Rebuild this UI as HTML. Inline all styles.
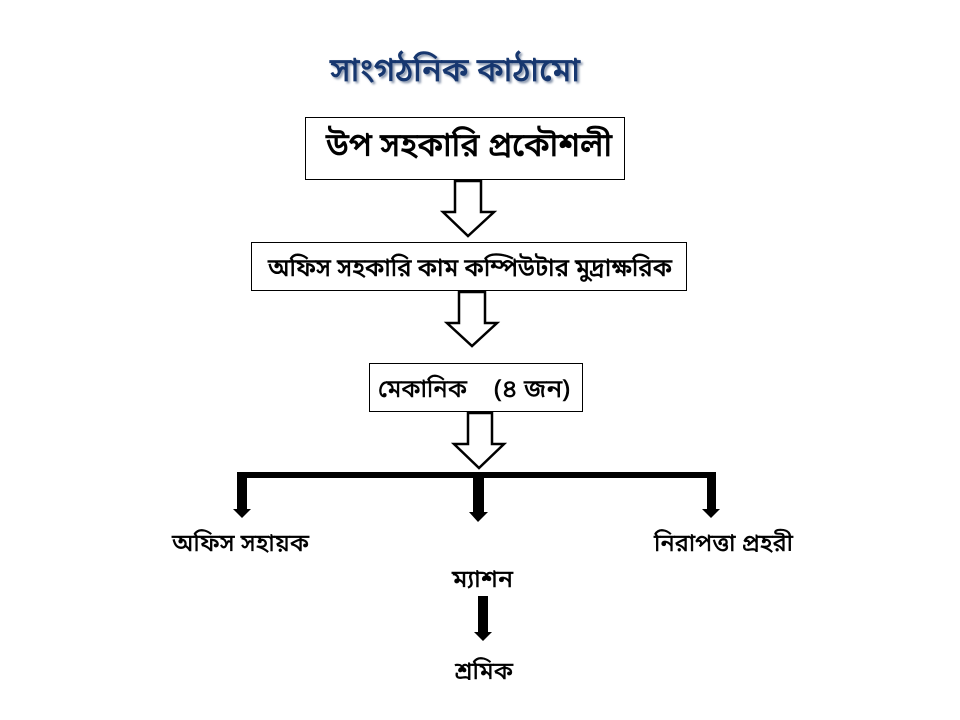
<!DOCTYPE html>
<html lang="bn">
<head>
<meta charset="utf-8">
<title>সাংগঠনিক কাঠামো</title>
<style>
html,body{margin:0;padding:0;background:#fff;width:960px;height:720px;overflow:hidden}
svg{display:block}
text{font-family:"Noto Sans Bengali","Noto Serif Bengali","Lohit Bengali","Vrinda","Liberation Sans","DejaVu Sans",sans-serif;fill:#000;stroke:#000;stroke-width:.45px}
</style>
</head>
<body>
<svg width="960" height="720" viewBox="0 0 960 720" xmlns="http://www.w3.org/2000/svg">
<defs><filter id="b" x="-5%" y="-30%" width="110%" height="160%"><feGaussianBlur stdDeviation="1"/></filter></defs>
<rect width="960" height="720" fill="#fff"/>
<!-- title -->
<text x="332" y="83" font-size="33" textLength="250" lengthAdjust="spacingAndGlyphs" filter="url(#b)" style="fill:#8a97ad;stroke:#8a97ad;stroke-width:.6px">সাংগঠনিক কাঠামো</text>
<text x="330" y="81" font-size="33" textLength="250" lengthAdjust="spacingAndGlyphs" style="fill:#17376f;stroke:#17376f;stroke-width:.7px">সাংগঠনিক কাঠামো</text>
<!-- boxes -->
<g fill="#fff" stroke="#000" stroke-width="1">
<rect x="305.5" y="117.5" width="319" height="62"/>
<rect x="251.5" y="242.5" width="435" height="48"/>
<rect x="369.5" y="363.5" width="213" height="48"/>
</g>
<text x="326" y="156" font-size="33" textLength="286" lengthAdjust="spacingAndGlyphs" style="stroke-width:.8px">উপ সহকারি প্রকৌশলী</text>
<text x="268" y="276" font-size="25" textLength="404" lengthAdjust="spacingAndGlyphs" style="stroke-width:.6px">অফিস সহকারি কাম কম্পিউটার মুদ্রাক্ষরিক</text>
<text x="378" y="397" font-size="25" textLength="89" lengthAdjust="spacingAndGlyphs">মেকানিক</text>
<text x="494" y="397" font-size="25" textLength="76" lengthAdjust="spacingAndGlyphs">(৪ জন)</text>
<!-- hollow arrows -->
<g fill="#fff" stroke="#000" stroke-width="2.5" stroke-linejoin="miter">
<polygon points="455,181 481,181 481,212 494,212 468,236 443,212 455,212"/>
<polygon points="459,292 485,292 485,323 497,323 472,346 447,323 459,323"/>
<polygon points="468,413 492,413 492,444 504,444 479,468 454,444 468,444"/>
</g>
<!-- bar and solid arrows -->
<g fill="#000">
<rect x="237" y="472" width="479" height="6"/>
<polygon points="237,478 247,478 247,509 251,509 242,518 233,509 237,509"/>
<polygon points="473,478 484,478 484,512 488,512 478,522 469,512 473,512"/>
<polygon points="707,478 716,478 716,509 720,509 711,518 702,509 707,509"/>
<polygon points="478,596 488,596 488,632 492,632 483,641 474,632 478,632"/>
</g>
<!-- labels -->
<text x="172" y="551" font-size="24" textLength="137" lengthAdjust="spacingAndGlyphs">অফিস সহায়ক</text>
<text x="654" y="551" font-size="24" textLength="139" lengthAdjust="spacingAndGlyphs">নিরাপত্তা প্রহরী</text>
<text x="452" y="587" font-size="24" textLength="61" lengthAdjust="spacingAndGlyphs">ম্যাশন</text>
<text x="455" y="679" font-size="24" textLength="58" lengthAdjust="spacingAndGlyphs">শ্রমিক</text>
</svg>
</body>
</html>
